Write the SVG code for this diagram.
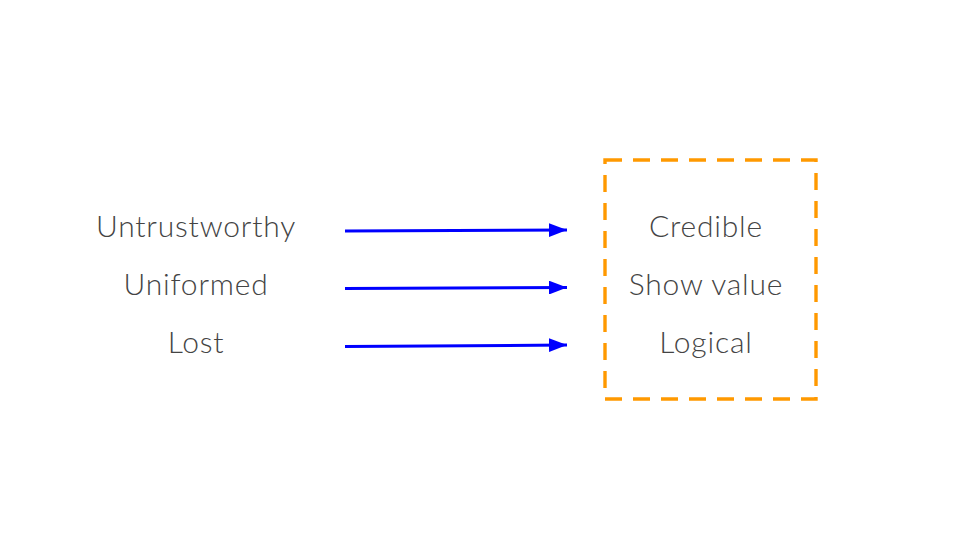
<svg xmlns="http://www.w3.org/2000/svg" width="960" height="540" viewBox="0 0 960 540">
<style>
.t{font-family:Lato,"Noto Sans","Liberation Sans",sans-serif;font-size:30px;font-weight:300;letter-spacing:0.8px;fill:#444444;text-anchor:middle}
.c{stroke:#0000ff;stroke-width:3;fill:none}
</style>
<defs>
<marker id="ah" markerWidth="6" markerHeight="4.6" refX="6" refY="2.3" orient="auto" markerUnits="strokeWidth"><path d="M0,0 L6,2.3 L0,4.6 Z" fill="#0000ff"/></marker>
</defs>
<rect width="960" height="540" fill="#fff"/>
<g id="left">
<g id="n-untrustworthy"><text class="t" x="196" y="237">Untrustworthy</text></g>
<g id="n-uniformed"><text class="t" x="196" y="295">Uniformed</text></g>
<g id="n-lost"><text class="t" x="196" y="353">Lost</text></g>
</g>
<g id="box"><rect x="605" y="160" width="211" height="239" fill="none" stroke="#ff9900" stroke-width="3.4" stroke-dasharray="17,11"/></g>
<g id="right">
<g id="n-credible"><text class="t" x="706" y="237">Credible</text></g>
<g id="n-showvalue"><text class="t" x="706" y="295">Show value</text></g>
<g id="n-logical"><text class="t" x="706" y="353">Logical</text></g>
</g>
<g id="connectors">
<line class="c" x1="345" y1="231" x2="567" y2="230" marker-end="url(#ah)"/>
<line class="c" x1="345" y1="288.5" x2="567" y2="287.5" marker-end="url(#ah)"/>
<line class="c" x1="345" y1="346.5" x2="567" y2="345" marker-end="url(#ah)"/>
</g>
</svg>
